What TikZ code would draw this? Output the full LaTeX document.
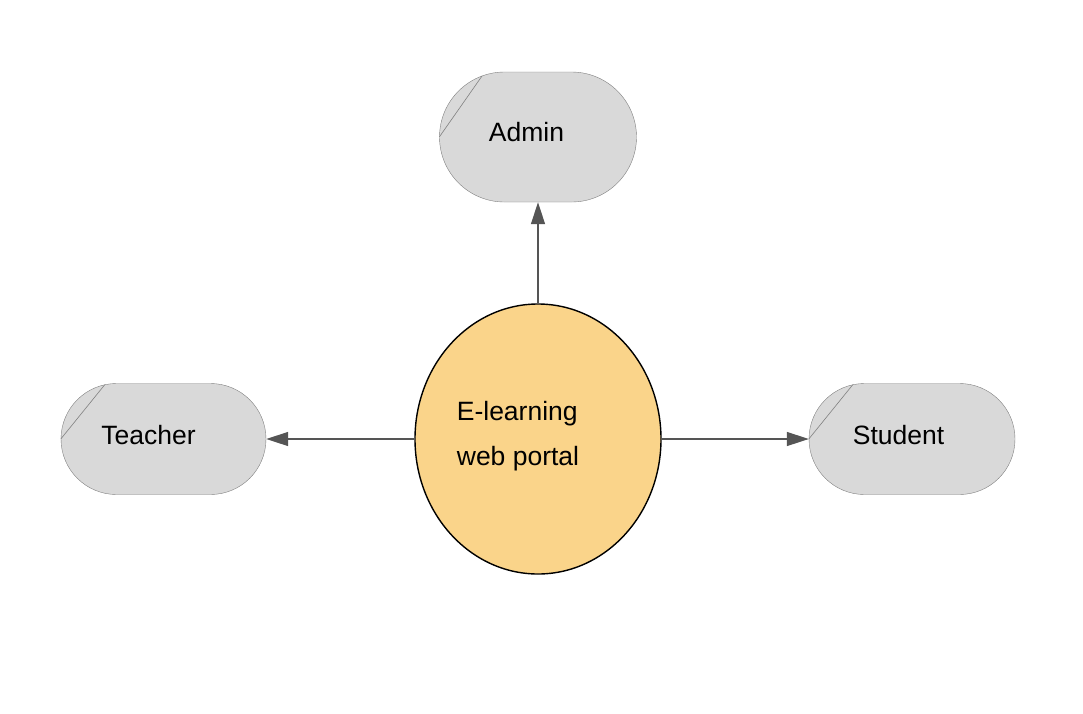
\documentclass[tikz,border=0pt]{standalone}
\usepackage{fontspec}
\setmainfont{Liberation Sans}
\usetikzlibrary{calc, arrows.meta, shapes.geometric}
\definecolor{actorFill}{HTML}{D9D9D9}
\definecolor{actorLine}{HTML}{808080}
\definecolor{portalFill}{HTML}{FAD48A}
\definecolor{flowLine}{HTML}{555555}

\tikzset{
    actor/.style={draw=actorLine, fill=actorFill, rounded corners=#1,
        minimum height=2*#1, inner sep=0pt},
    flow/.style={draw=flowLine, line width=1.3pt,
        -{Triangle[length=22pt, width=14pt]}}
}

\begin{document}
\begin{tikzpicture}[x=1pt, y=-1pt, font=\fontsize{26.5}{45}\selectfont]
    \useasboundingbox (0,0) rectangle (1083,713);
    \fill[white] (0,0) rectangle (1083,713);
    % portal in the middle
    \node[ellipse, draw=black, line width=1.4pt, fill=portalFill,
        minimum width=246pt, minimum height=270pt, inner sep=0pt,
        label={[align=left, shift={(-20,-3)}]center:E-learning\\web portal}]
        (portal) at (538,439) {};
    % the three users
    \node[actor=65pt, minimum width=197pt,
        label={[shift={(-11.5,-5)}]center:Admin}] (admin) at (538,137) {};
    \node[actor=55.5pt, minimum width=205pt,
        label={[shift={(-15,-4)}]center:Teacher}] (teacher) at (163.5,439) {};
    \node[actor=55.5pt, minimum width=206pt,
        label={[shift={(-13.5,-4)}]center:Student}] (student) at (912,439) {};
    % folded corner marks
    \draw[actorLine, line width=0.6pt] (admin.west) -- ($(admin.west)+(65,0)+(-110:65)$);
    \draw[actorLine, line width=0.6pt] (teacher.west) -- ($(teacher.west)+(55.5,0)+(-102:55.5)$);
    \draw[actorLine, line width=0.6pt] (student.west) -- ($(student.west)+(55.5,0)+(-102:55.5)$);
    % flows
    \draw[flow] (portal.north) -- (admin.south);
    \draw[flow] (portal.west) -- (teacher.east);
    \draw[flow] (portal.east) -- (student.west);
\end{tikzpicture}
\end{document}
